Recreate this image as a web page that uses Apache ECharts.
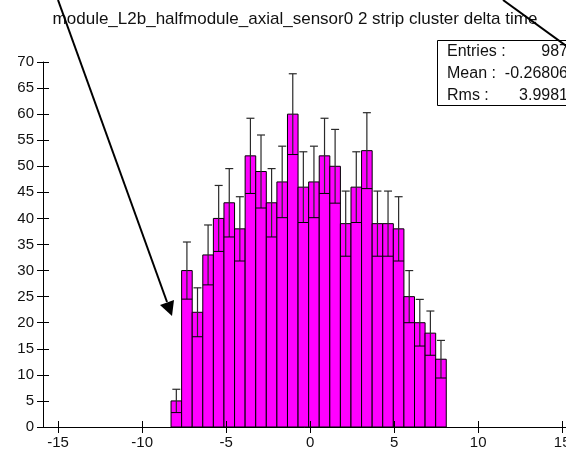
<!DOCTYPE html>
<html>
<head>
<meta charset="utf-8">
<script src="https://cdn.jsdelivr.net/npm/echarts@6/dist/echarts.min.js"></script>
<style>
  html, body { margin: 0; padding: 0; background: #fff; }
  #chart { width: 566px; height: 455px; }
</style>
</head>
<body>
<div id="chart"></div>
<script>
// Histogram: 2 strip cluster delta time
const titleText = 'module_L2b_halfmodule_axial_sensor0 2 strip cluster delta time';
const binLow = -8.28;      // lower edge of the first filled bin
const binWidth = 0.63;     // bin width
const counts = [5, 30, 22, 33, 40, 43, 38, 52, 49, 43, 47, 60, 46,
                47, 52, 50, 39, 46, 53, 39, 39, 38, 25, 20, 18, 13];
const xTicks = [-15, -10, -5, 0, 5, 10, 15];
const xRange = [-15.9, 16];
const yRange = [0, 70];
const statNames = ['Entries :', 'Mean :', 'Rms :'];
const statValues = ['987', '-0.26806', '3.9981'];

const FONT = '"Liberation Sans", Arial, sans-serif';
const chart = echarts.init(document.getElementById('chart'), null, { renderer: 'canvas' });

const binData = counts.map((n, i) => [binLow + i * binWidth, binLow + (i + 1) * binWidth, n]);

function renderBin(params, api) {
  const lo = api.value(0), hi = api.value(1), n = api.value(2);
  const tl = api.coord([lo, n]);
  const br = api.coord([hi, 0]);
  const err = Math.sqrt(n);
  const cx = (tl[0] + br[0]) / 2;
  const yTop = api.coord([lo, n + err])[1];
  const yBot = api.coord([lo, n - err])[1];
  const errStyle = { stroke: '#2a2a2a', lineWidth: 1.2 };
  return {
    type: 'group',
    children: [
      { type: 'rect', shape: { x: tl[0], y: tl[1], width: br[0] - tl[0], height: br[1] - tl[1] },
        style: { fill: '#ff00ff', stroke: '#000', lineWidth: 1 } },
      { type: 'line', shape: { x1: cx, y1: yTop, x2: cx, y2: yBot }, style: errStyle },
      { type: 'line', shape: { x1: cx - 4, y1: yTop, x2: cx + 4, y2: yTop }, style: errStyle },
      { type: 'line', shape: { x1: tl[0], y1: yBot, x2: br[0], y2: yBot }, style: { stroke: '#000', lineWidth: 1 } }
    ]
  };
}

const axisText = { color: '#111', fontFamily: FONT, fontSize: 15 };
const axisLineStyle = { show: true, onZero: false, lineStyle: { color: '#000', width: 1 } };

chart.setOption({
  animation: false,
  backgroundColor: '#fff',
  title: {
    text: titleText,
    left: 290, top: 6, textAlign: 'center',
    textStyle: { fontFamily: FONT, fontSize: 17, fontWeight: 'normal', color: '#111' }
  },
  grid: { left: 43, top: 62, height: 365, width: 536, containLabel: false, outerBoundsMode: 'none' },
  xAxis: [
    {
      type: 'value', min: xRange[0], max: xRange[1], position: 'bottom',
      axisLine: axisLineStyle,
      axisTick: { show: true, length: 6, customValues: xTicks, lineStyle: { color: '#000' } },
      axisLabel: Object.assign({ show: true, margin: 8, customValues: xTicks }, axisText),
      splitLine: { show: false }, z: 5
    },
    {
      type: 'value', min: xRange[0], max: xRange[1], position: 'bottom',
      axisLine: { show: false, onZero: false },
      axisTick: { show: true, inside: true, length: 6, customValues: xTicks, lineStyle: { color: '#000' } },
      axisLabel: { show: false },
      splitLine: { show: false }, z: 5
    }
  ],
  yAxis: [
    {
      type: 'value', min: yRange[0], max: yRange[1], interval: 5, position: 'left',
      axisLine: axisLineStyle,
      axisTick: { show: true, length: 6, lineStyle: { color: '#000' } },
      axisLabel: Object.assign({ show: true, margin: 9 }, axisText),
      splitLine: { show: false }, z: 5
    },
    {
      type: 'value', min: yRange[0], max: yRange[1], interval: 5, position: 'left',
      axisLine: { show: false, onZero: false },
      axisTick: { show: true, inside: true, length: 6, lineStyle: { color: '#000' } },
      axisLabel: { show: false },
      splitLine: { show: false }, z: 5
    }
  ],
  series: [{
    type: 'custom',
    xAxisIndex: 0, yAxisIndex: 0,
    renderItem: renderBin,
    data: binData,
    clip: false,
    z: 2
  }],
  graphic: [
    // statistics box
    { type: 'rect', left: 437, top: 40, z: 10,
      shape: { width: 140, height: 65 },
      style: { fill: '#fff', stroke: '#000', lineWidth: 1 } },
    ...statNames.map((s, i) => ({
      type: 'text', x: 447, y: 52 + i * 22, z: 11,
      style: { text: s, fontFamily: FONT, fontSize: 16, fill: '#111', textVerticalAlign: 'middle' }
    })),
    ...statValues.map((s, i) => ({
      type: 'text', x: 568, y: 52 + i * 22, z: 11,
      style: { text: s, fontFamily: FONT, fontSize: 16, fill: '#111', textAlign: 'right', textVerticalAlign: 'middle' }
    })),
    // arrow pointing at the first bins
    { type: 'line', z: 12,
      shape: { x1: 58, y1: 0, x2: 167, y2: 302 },
      style: { stroke: '#000', lineWidth: 2 } },
    { type: 'polygon', z: 12,
      shape: { points: [[172, 316], [160, 305], [174, 300]] },
      style: { fill: '#000' } },
    // line running to the statistics box
    { type: 'line', z: 12,
      shape: { x1: 503, y1: 0, x2: 580, y2: 56 },
      style: { stroke: '#000', lineWidth: 2 } }
  ]
});
</script>
</body>
</html>
